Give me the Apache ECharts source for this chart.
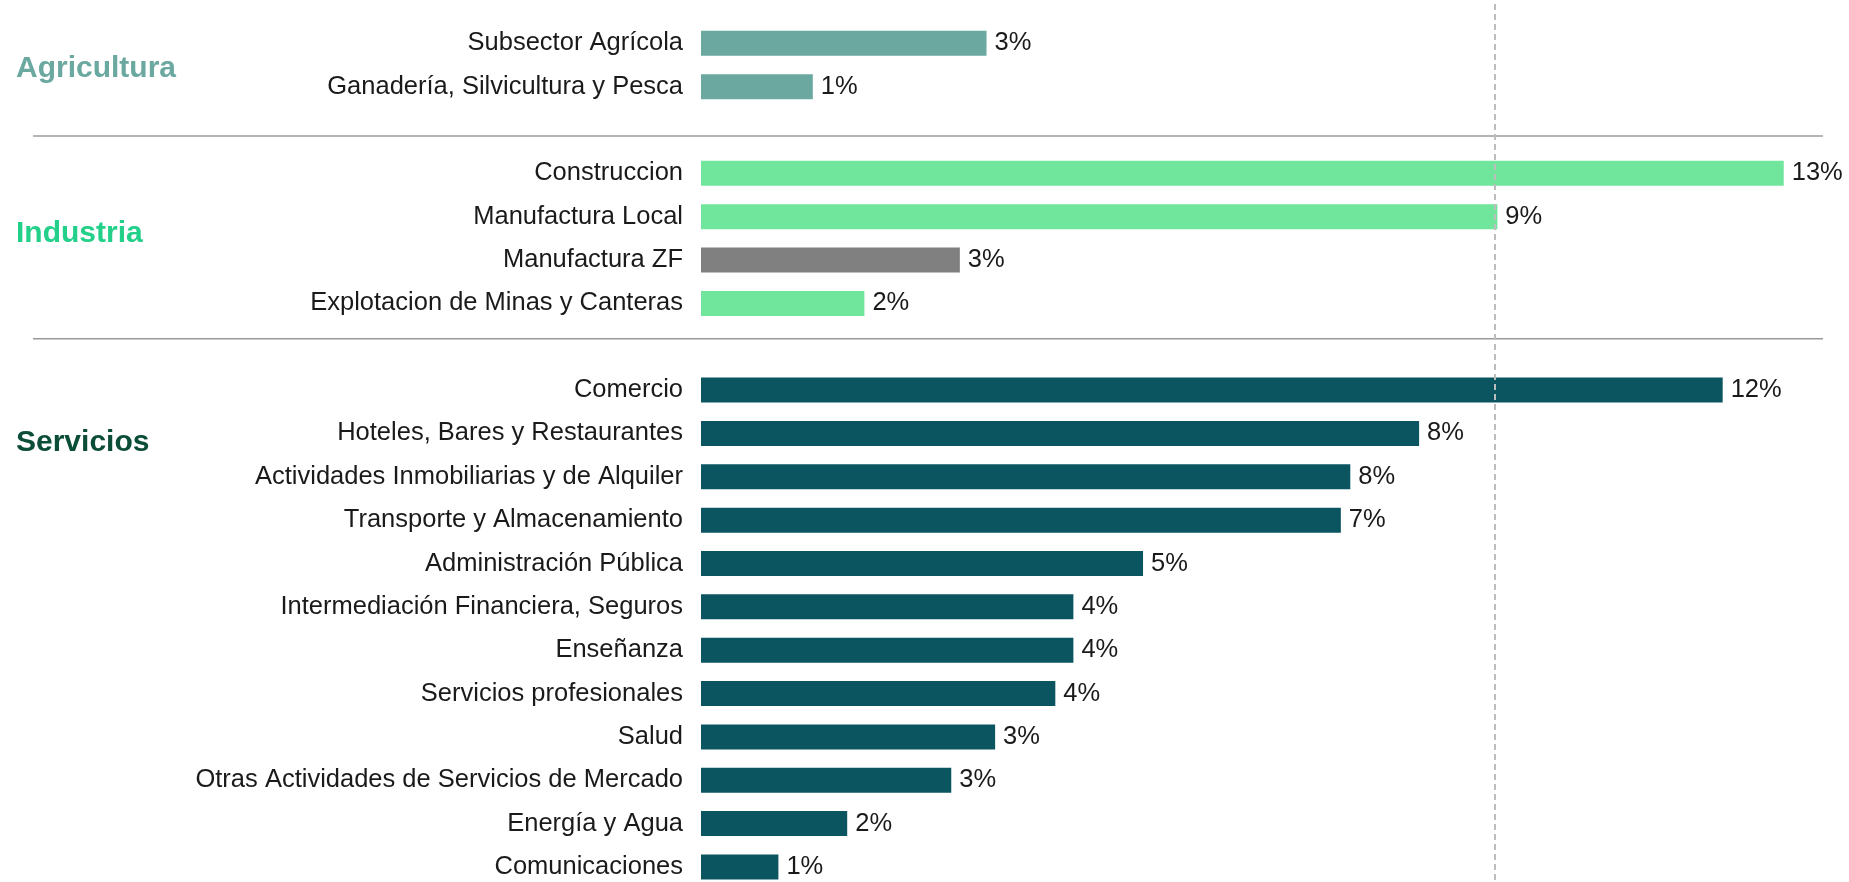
<!DOCTYPE html>
<html>
<head>
<meta charset="utf-8">
<script src="https://cdn.jsdelivr.net/npm/echarts@6/dist/echarts.min.js"></script>
<style>
  html, body { margin: 0; padding: 0; background: #fff; }
  #main { width: 1849px; height: 882px; }
</style>
</head>
<body>
<div id="main"></div>
<script>
// datos por sector (%)
var agriLabels = ['Subsector Agrícola', 'Ganadería, Silvicultura y Pesca']
var agriValues = [3.32, 1.30]

var indLabels = ['Construccion', 'Manufactura Local', 'Manufactura ZF', 'Explotacion de Minas y Canteras']
var indValues = [12.59, 9.26, 3.01, 1.90]

var servLabels = [
  'Comercio', 'Hoteles, Bares y Restaurantes', 'Actividades Inmobiliarias y de Alquiler',
  'Transporte y Almacenamiento', 'Administración Pública', 'Intermediación Financiera, Seguros',
  'Enseñanza', 'Servicios profesionales', 'Salud', 'Otras Actividades de Servicios de Mercado',
  'Energía y Agua', 'Comunicaciones'
]
var servValues = [11.88, 8.35, 7.55, 7.44, 5.14, 4.33, 4.33, 4.12, 3.42, 2.91, 1.70, 0.90]

var promedio = 9.23

var groupNames = ['Agricultura', 'Industria', 'Servicios']
var groupColors = ['#6aa8a0', '#22d08a', '#0b4d38']
var barColors = { agri: '#6aa8a0', ind: '#70e69c', zf: '#808080', serv: '#0a5560' }

// armar categorias con filas vacias entre grupos
var gap1 = ' '
var gap2 = '  '
var categories = [].concat(agriLabels, [gap1], indLabels, [gap2], servLabels)

var data = []
agriValues.forEach(function (v) { data.push({ value: v, itemStyle: { color: barColors.agri } }) })
data.push('-')
indValues.forEach(function (v, i) {
  var c = indLabels[i] === 'Manufactura ZF' ? barColors.zf : barColors.ind
  data.push({ value: v, itemStyle: { color: c } })
})
data.push('-')
servValues.forEach(function (v) { data.push({ value: v, itemStyle: { color: barColors.serv } }) })

var font = '"Liberation Sans", Arial, sans-serif'
var myChart = echarts.init(document.getElementById('main'))

var option = {
  animation: false,
  grid: { left: 701, right: 30, top: 21.6, height: 867, containLabel: false, outerBoundsMode: 'none' },
  xAxis: {
    type: 'value', min: 0, max: 13, show: false
  },
  yAxis: {
    type: 'category',
    inverse: true,
    data: categories,
    axisLine: { show: false },
    axisTick: { show: false },
    splitLine: { show: false },
    axisLabel: { fontSize: 25.5, color: '#1a1a1a', fontFamily: font, margin: 18 }
  },
  series: [{
    type: 'bar',
    data: data,
    barWidth: 25,
    label: {
      show: true,
      position: 'right',
      distance: 8,
      fontSize: 25.5,
      color: '#1a1a1a',
      fontFamily: font,
      formatter: function (p) { return Math.round(p.value) + '%' }
    },
    markLine: {
      silent: true,
      symbol: 'none',
      label: { show: false },
      lineStyle: { color: '#bdbdbd', type: [6, 4], width: 2 },
      data: [[{ xAxis: promedio, y: 4 }, { xAxis: promedio, y: '100%' }]]
    }
  }]
}
myChart.setOption(option)

// lineas separadoras y nombres de grupo
var y1 = myChart.convertToPixel({ yAxisIndex: 0 }, gap1) + 6
var y2 = myChart.convertToPixel({ yAxisIndex: 0 }, gap2) - 8
var yAgri = (myChart.convertToPixel({ yAxisIndex: 0 }, agriLabels[0]) + myChart.convertToPixel({ yAxisIndex: 0 }, agriLabels[1])) / 2 + 4
var yInd = (myChart.convertToPixel({ yAxisIndex: 0 }, indLabels[1]) + myChart.convertToPixel({ yAxisIndex: 0 }, indLabels[2])) / 2 - 5
var yServ = myChart.convertToPixel({ yAxisIndex: 0 }, servLabels[1]) + 9
var groupY = [yAgri, yInd, yServ]

var graphics = []
;[y1, y2].forEach(function (y) {
  graphics.push({
    type: 'line',
    shape: { x1: 33, y1: y, x2: 1823, y2: y },
    style: { stroke: '#9a9a9a', lineWidth: 1.5 }
  })
})
groupNames.forEach(function (name, i) {
  graphics.push({
    type: 'text',
    x: 16,
    y: groupY[i],
    style: {
      text: name,
      fill: groupColors[i],
      font: 'bold 30px ' + font,
      align: 'left',
      verticalAlign: 'middle'
    }
  })
})
myChart.setOption({ graphic: graphics })
</script>
</body>
</html>
